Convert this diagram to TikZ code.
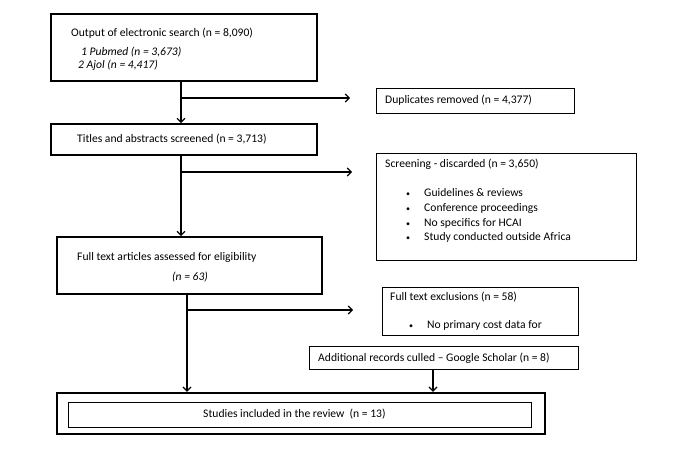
\documentclass[tikz,border=0pt]{standalone}
\usepackage{fontspec}
\setmainfont{Carlito}
\usetikzlibrary{arrows.meta}

\tikzset{
  stagebox/.style={draw, line width=1.6pt, inner sep=0pt},
  sidebox/.style={draw, line width=0.9pt, inner sep=0pt},
  txt/.style={anchor=west, inner sep=0pt, font=\fontsize{11.6}{13}\selectfont},
  itxt/.style={txt, font=\fontsize{11.6}{13}\selectfont\itshape},
  arr/.style={line width=1.3pt, -{Straight Barb[length=4pt,width=8pt]}},
  branch/.style={line width=1.1pt, -{Straight Barb[length=4pt,width=8pt]}}
}
\newcommand{\bul}{\makebox[18pt][l]{\footnotesize\textbullet}}

\begin{document}
\begin{tikzpicture}[x=1pt,y=-1pt]
\useasboundingbox (0,0) rectangle (676,452);

% main column
\node[stagebox, minimum width=266pt, minimum height=67pt] (search) at (184,47.5) {};
\node[stagebox, minimum width=266pt, minimum height=31pt] (titles) at (184,139.5) {};
\node[stagebox, minimum width=265pt, minimum height=57pt] (full) at (189.5,265.5) {};
\node[draw, line width=2.2pt, minimum width=488pt, minimum height=41pt, inner sep=0pt] (final) at (301,413.5) {};
\node[draw, line width=0.8pt, minimum width=463pt, minimum height=25pt, inner sep=0pt] (finalin) at (299.5,414.5) {};

% side boxes
\node[sidebox, minimum width=198pt, minimum height=25pt] (dup) at (475,100.5) {};
\node[sidebox, minimum width=260pt, minimum height=107pt] (screen) at (506,206.5) {};
\node[sidebox, minimum width=196pt, minimum height=48pt] (excl) at (480,311) {};
\node[sidebox, minimum width=269pt, minimum height=23pt] (extra) at (443.5,357.5) {};

% texts
\node[txt] (t1) at (71,33) {Output of electronic search (n = 8,090)};
\node[itxt] (t1a) at (81,52) {1 Pubmed (n = 3,673)};
\node[itxt] (t1b) at (78,65) {2 Ajol (n = 4,417)};
\node[txt] (t2) at (77,139.5) {Titles and abstracts screened (n = 3,713)};
\node[txt] (t3) at (77,257) {Full text articles assessed for eligibility};
\node[itxt] (t3a) at (172,277) {(n = 63)};
\node[txt] (t4) at (385,100) {Duplicates removed (n = 4,377)};
\node[txt] (t5) at (385,164) {Screening - discarded (n = 3,650)};
\node[txt] (t5a) at (406,193) {\bul Guidelines \& reviews};
\node[txt] (t5b) at (406,208) {\bul Conference proceedings};
\node[txt] (t5c) at (406,223) {\bul No specifics for HCAI};
\node[txt] (t5d) at (406,237) {\bul Study conducted outside Africa};
\node[txt] (t6) at (390,297) {Full text exclusions (n = 58)};
\node[txt] (t6a) at (409,325) {\bul No primary cost data for};
\node[txt] (t7) at (318,358) {Additional records culled -- Google Scholar (n = 8)};
\node[txt] (t8) at (203,414.5) {Studies included in the review\ \ (n = 13)};

% connectors
\coordinate (s1) at (181,81);
\coordinate (s2) at (181,155);
\coordinate (s3) at (187,294);
\coordinate (b1) at (181,98);
\coordinate (b2) at (181,172);
\coordinate (b3) at (187,310);
\coordinate (e1) at (350,98);
\coordinate (e2) at (352,172);
\coordinate (e3) at (353,310);

\draw[arr] (s1) -- (s1 |- titles.north);
\draw[arr] (s2) -- (s2 |- full.north);
\draw[arr] (s3) -- (s3 |- final.north);
\draw[arr] (extra.south -| 433,0) -- (final.north -| 433,0);
\draw[branch] (b1) -- (e1);
\draw[branch] (b2) -- (e2);
\draw[branch] (b3) -- (e3);
\end{tikzpicture}
\end{document}
